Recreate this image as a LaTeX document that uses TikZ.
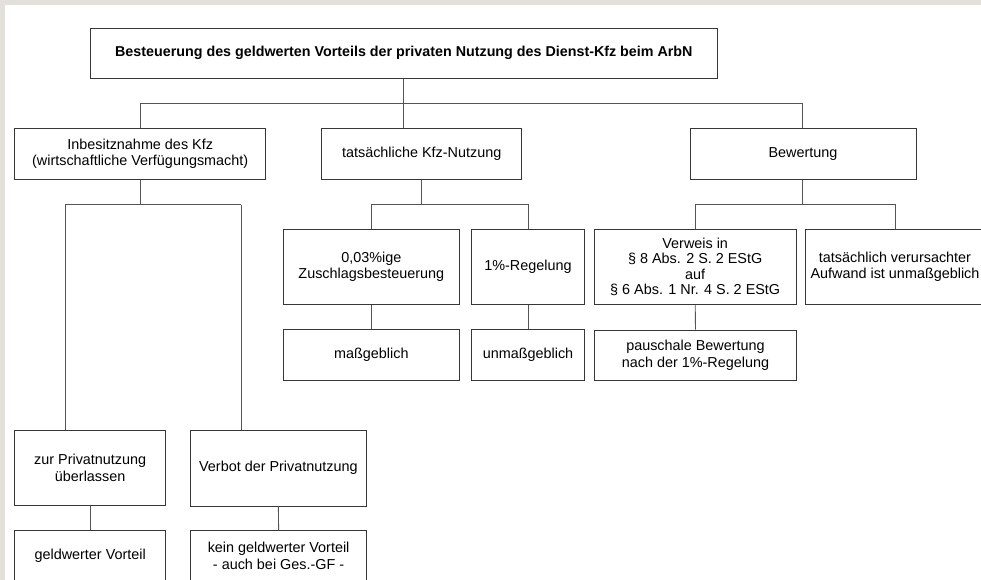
\documentclass[tikz,border=0pt]{standalone}
\usepackage{fontspec}
\setmainfont{Liberation Sans}
\definecolor{framegray}{RGB}{227,223,219}
\definecolor{boxline}{RGB}{55,55,55}
\definecolor{connline}{RGB}{85,85,85}
\tikzset{
  box/.style={draw=boxline, line width=0.9pt, fill=white, inner sep=0pt,
    align=center, font=\fontsize{14.4}{16.6}\selectfont},
  tight/.style={font=\fontsize{14.4}{15.2}\selectfont},
  conn/.style={draw=connline, line width=0.9pt},
}
% box with given centre, width and height
\newcommand{\mybox}[6][]{%
  \node[box,#1,minimum width=#4pt,minimum height=#5pt] (#2) at #3 {#6};}
\begin{document}
\begin{tikzpicture}[x=1pt,y=-1pt]
\clip (0,0) rectangle (981,580);
\fill[white] (0,0) rectangle (981,580);
\fill[framegray] (0,0) rectangle (981,4.7);
\fill[framegray] (0,0) rectangle (5,580);

% junction points of the connector buses
\coordinate (busTop) at (140.7,103.3);
\coordinate (busTopR) at (802.7,103.3);
\coordinate (busL) at (65,204.5);
\coordinate (busLR) at (241,204.5);
\coordinate (busM) at (371.3,204);
\coordinate (busMR) at (528,204);
\coordinate (busR) at (695.5,204);
\coordinate (busRR) at (895.7,204);

% connectors
\draw[conn] (busTop) -- (busTopR);
\draw[conn] (403.9,78.3) coordinate (titleFoot) -- (titleFoot |- 0,128.3);
\draw[conn] (busTop) -- (busTop |- 0,128.3);
\draw[conn] (busTopR) -- (busTopR |- 0,128.3);

\draw[conn] (busL) -- (busLR);
\draw[conn] (140.7,179) -- (140.7,204.5);
\draw[conn] (busL) -- (busL |- 0,430);
\draw[conn] (busLR) -- (busLR |- 0,430);

\draw[conn] (busM) -- (busMR);
\draw[conn] (421.7,179.3) -- (421.7,204);
\draw[conn] (busM) -- (busM |- 0,229.3);
\draw[conn] (busMR) -- (busMR |- 0,229.3);

\draw[conn] (busR) -- (busRR);
\draw[conn] (802.7,179) -- (802.7,204);
\draw[conn] (busR) -- (busR |- 0,229.3);
\draw[conn] (busRR) -- (busRR |- 0,229.3);

% boxes
\mybox[font=\fontsize{14.3}{15.3}\selectfont\bfseries]{title}{(403.85,53.3)}{627.7}{50}{Besteuerung des geldwerten Vorteils der privaten Nutzung des Dienst-Kfz beim ArbN}
\mybox{inb}{(140.2,153.65)}{251}{50.7}{Inbesitznahme des Kfz\\(wirtschaftliche Verfügungsmacht)}
\mybox{kfz}{(421.7,153.8)}{200}{51}{tatsächliche Kfz-Nutzung}
\mybox{bew}{(803,153.65)}{226}{50.7}{Bewertung}

\mybox{zus}{(371.3,266.8)}{176}{75}{0,03\%ige\\Zuschlagsbesteuerung}
\mybox{eins}{(528,266.8)}{112.6}{75}{1\%-Regelung}
\mybox{mass}{(371.3,354.65)}{176}{50.7}{maßgeblich}
\mybox{unm}{(528,354.65)}{112.6}{50.7}{unmaßgeblich}

\mybox[tight]{verw}{(695.2,266.8)}{201.5}{75}{Verweis in\\§ 8 Abs. 2 S. 2 EStG\\auf\\§ 6 Abs. 1 Nr. 4 S. 2 EStG}
\mybox[tight]{tats}{(895,266.8)}{178.6}{75}{tatsächlich verursachter\\Aufwand ist unmaßgeblich}
\mybox{paus}{(695.5,355)}{201.5}{50}{pauschale Bewertung\\nach der 1\%-Regelung}

\mybox{zur}{(90.2,467.85)}{151}{75.7}{zur Privatnutzung\\überlassen}
\mybox{verb}{(278.4,468)}{176}{76}{Verbot der Privatnutzung}
\mybox{geld}{(90.2,556)}{151}{51}{geldwerter Vorteil}
\mybox{kein}{(278.6,556)}{176}{51}{kein geldwerter Vorteil\\- auch bei Ges.-GF -}

% connectors from boxes to the boxes below them
\draw[conn] (zus.south) -- (mass.north);
\draw[conn] (eins.south) -- (unm.north);
\draw[conn] (verw.south) -- (paus.north);
\draw[conn] (zur.south) -- (geld.north);
\draw[conn] (verb.south) -- (kein.north);
\end{tikzpicture}
\end{document}
